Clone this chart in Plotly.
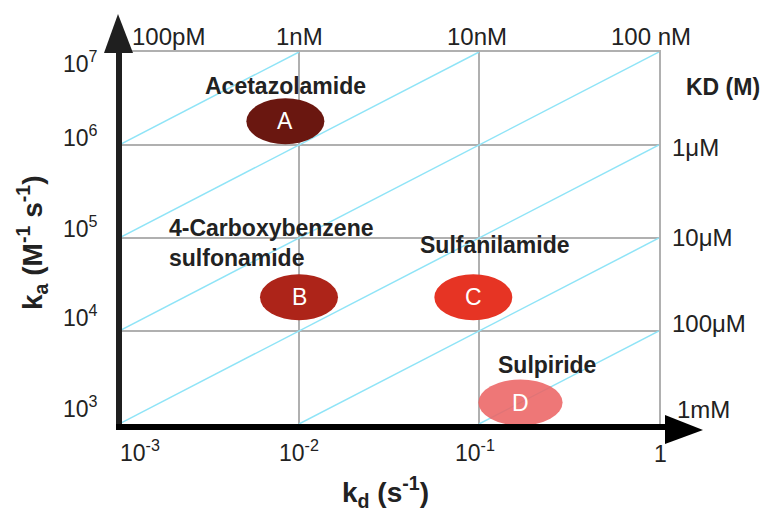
import math
import plotly.graph_objects as go

# ---------------- data ----------------
compounds = ["Acetazolamide", "4-Carboxybenzene<br>sulfonamide", "Sulfanilamide", "Sulpiride"]
letters = ["A", "B", "C", "D"]
kd_values = [8.4e-3, 1.0e-2, 9.3e-2, 0.17]          # s^-1
ka_values = [1.8e6, 2.3e4, 2.3e4, 1.7e3]            # M^-1 s^-1
ellipse_colors = ["#6a1710", "#ad2419", "#e63424", "#ec6464"]

kd_iso = [1e-9, 1e-8, 1e-7, 1e-6, 1e-5, 1e-4]      # iso-affinity lines (M)
top_kd_labels = ["100pM", "1nM", "10nM", "100 nM"]
right_kd_labels = ["1\u03bcM", "10\u03bcM", "100\u03bcM", "1mM"]
x_ticks = [1e-3, 1e-2, 1e-1, 1]
x_tick_text = ["10<sup>-3</sup>", "10<sup>-2</sup>", "10<sup>-1</sup>", "1"]
y_ticks = [1e3, 1e4, 1e5, 1e6, 1e7]
y_tick_text = ["10<sup>3</sup>", "10<sup>4</sup>", "10<sup>5</sup>", "10<sup>6</sup>", "10<sup>7</sup>"]

X_RANGE = (1e-3, 1.0)
Y_RANGE = (1e3, 1e7)

# ---------------- layout geometry (pixels in the window) ----------------
W, H = 769, 512
OFF = 8                       # page body margin
L, R, T, B = 119, 659, 52, 424


def px(x):
    return (x - L) / (R - L)


def py(y):
    return (B - y) / (B - T)


# ellipse half sizes in decades (~39 px wide-half, 23 px tall-half)
HALF_W_DEC = 39 / 180
HALF_H_DEC = 23 / 93

FONT = "Liberation Sans, Arial, sans-serif"
TXT = "#222222"

fig = go.Figure()

# iso-KD lines
for K in kd_iso:
    x0 = max(X_RANGE[0], K * Y_RANGE[0])
    x1 = min(X_RANGE[1], K * Y_RANGE[1])
    fig.add_trace(go.Scatter(
        x=[x0, x1], y=[x0 / K, x1 / K], mode="lines",
        line=dict(color="#8fe4f7", width=1.5), hoverinfo="skip", showlegend=False))

shapes = []
annotations = []
for i, (k1, k2) in enumerate(zip(kd_values, ka_values)):
    hw = HALF_W_DEC * (1.08 if letters[i] == "D" else 1.0)
    shapes.append(dict(
        type="circle", xref="x", yref="y",
        x0=k1 * 10 ** (-hw), x1=k1 * 10 ** hw,
        y0=k2 * 10 ** (-HALF_H_DEC), y1=k2 * 10 ** HALF_H_DEC,
        fillcolor=ellipse_colors[i], line=dict(width=0),
        opacity=0.88 if letters[i] == "D" else 1.0, layer="above"))
    annotations.append(dict(
        text=letters[i], xref="x", yref="y", x=math.log10(k1), y=math.log10(k2),
        showarrow=False, xanchor="center", yanchor="middle",
        font=dict(family=FONT, size=23, color="white")))

# black axes with arrowheads
shapes.append(dict(type="line", xref="paper", yref="paper",
                   x0=px(119), x1=px(119), y0=py(430), y1=py(50),
                   line=dict(color="#1f1f1f", width=6)))
shapes.append(dict(type="line", xref="paper", yref="paper",
                   x0=px(116), x1=px(668), y0=py(427), y1=py(427),
                   line=dict(color="#000000", width=6)))
shapes.append(dict(type="path", xref="paper", yref="paper",
                   path=f"M {px(104)} {py(53)} L {px(118)} {py(14)} L {px(133)} {py(53)} Z",
                   fillcolor="#1f1f1f", line=dict(width=0)))
shapes.append(dict(type="path", xref="paper", yref="paper",
                   path=f"M {px(665)} {py(415)} L {px(703)} {py(430)} L {px(665)} {py(444)} Z",
                   fillcolor="#000000", line=dict(width=0)))


def ann(text, x, y, size=22, bold=False, xanchor="center", yanchor="middle", align="center", angle=0):
    if bold:
        text = f"<b>{text}</b>"
    annotations.append(dict(
        text=text, xref="paper", yref="paper", x=px(x), y=py(y),
        xanchor=xanchor, yanchor=yanchor, align=align, textangle=angle,
        showarrow=False, font=dict(family=FONT, size=size, color=TXT)))


# compound names
ann(compounds[0], 285, 86, size=23, bold=True)
ann(compounds[1], 167, 243, size=23, bold=True, xanchor="left", align="left")
ann(compounds[2], 495, 245, size=23, bold=True)
ann(compounds[3], 547, 365, size=23, bold=True)

# top KD labels
for t, x in zip(top_kd_labels, [168, 299, 477, 651]):
    ann(t, x, 36, size=24)

# right KD labels
ann("KD (M)", 684, 87, size=23, bold=True, xanchor="left")
for t, (x, y) in zip(right_kd_labels, [(670, 147), (670, 237), (670, 323), (675, 409)]):
    ann(t, x, y, size=24, xanchor="left")

# y tick labels
for t, y in zip(y_tick_text, [407, 316, 227, 136, 62]):
    ann(t, 100, y, size=23, xanchor="right")

# x tick labels
for t, x in zip(x_tick_text[:3], [118, 277, 453]):
    ann(t, x, 451, size=23, xanchor="left")
ann(x_tick_text[3], 660, 454, size=23)

# axis titles
ann("k<sub>a</sub> (M<sup>-1</sup> s<sup>-1</sup>)", 32, 243, size=28, bold=True, angle=-90)
ann("k<sub>d</sub> (s<sup>-1</sup>)", 385, 492, size=28, bold=True)

fig.update_layout(
    width=W - OFF, height=H - OFF,
    margin=dict(l=L - OFF, r=W - R, t=T - OFF, b=H - B, pad=0),
    paper_bgcolor="white", plot_bgcolor="white",
    showlegend=False,
    shapes=shapes, annotations=annotations,
    xaxis=dict(type="log", range=[-3, 0], tickvals=x_ticks, showticklabels=False,
               showgrid=True, gridcolor="#b0b0b0", gridwidth=1.8, zeroline=False,
               showline=True, mirror=True, linecolor="#b0b0b0", linewidth=1.8, ticks=""),
    yaxis=dict(type="log", range=[3, 7], tickvals=y_ticks, showticklabels=False,
               showgrid=True, gridcolor="#b0b0b0", gridwidth=1.8, zeroline=False,
               showline=True, mirror=True, linecolor="#b0b0b0", linewidth=1.8, ticks=""),
)

fig.write_html("out.html")
